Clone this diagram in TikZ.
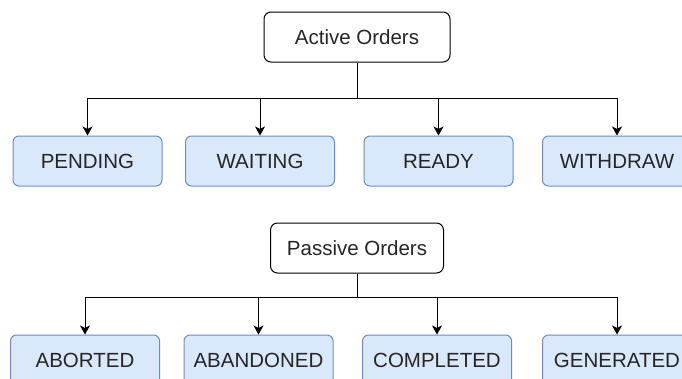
\documentclass[tikz,border=0pt]{standalone}
\usepackage{fontspec}
\setmainfont{Liberation Sans}
\usetikzlibrary{arrows.meta}
\definecolor{boxfill}{HTML}{DAE8FC}
\definecolor{boxline}{HTML}{6C8EBF}
\definecolor{txt}{HTML}{262626}
\begin{document}
\begin{tikzpicture}[x=1pt,y=-1pt,
  every node/.style={font=\fontsize{20.5}{24}\selectfont, text=txt, inner sep=0pt},
  groupbox/.style={draw=black, fill=white, rounded corners=7pt, line width=1pt, minimum height=50pt},
  statebox/.style={draw=boxline, fill=boxfill, rounded corners=6pt, line width=1pt, minimum width=149pt, minimum height=50pt},
  link/.style={draw=black, line width=1pt},
  arrowlink/.style={link, -{Stealth[length=9pt, width=10pt, inset=2.5pt]}}
]
\useasboundingbox (0,0) rectangle (682,378);
\clip (0,0) rectangle (682,378);
\fill[white] (0,0) rectangle (682,378);

% Active orders group
\node[groupbox, minimum width=186pt] (active) at (357,37) {Active Orders};
\node[statebox] (pending)  at (87.5,161)  {PENDING};
\node[statebox] (waiting)  at (260,161)   {WAITING};
\node[statebox] (ready)    at (438.5,161) {READY};
\node[statebox] (withdraw) at (617,161)   {WITHDRAW};
\coordinate (abus) at (357,98);
\draw[link] (active.south) -- (abus);
\foreach \n in {pending, waiting, ready, withdraw}
  \draw[arrowlink] (abus) -| (\n.north);

% Passive orders group
\node[groupbox, minimum width=173pt] (passive) at (357,248) {Passive Orders};
\node[statebox] (aborted)   at (85,360)  {ABORTED};
\node[statebox] (abandoned) at (258.5,360) {ABANDONED};
\node[statebox] (completed) at (437,360) {COMPLETED};
\node[statebox] (generated) at (617,360) {GENERATED};
\coordinate (pbus) at (357,297);
\draw[link] (passive.south) -- (pbus);
\foreach \n in {aborted, abandoned, completed, generated}
  \draw[arrowlink] (pbus) -| (\n.north);
\end{tikzpicture}
\end{document}
